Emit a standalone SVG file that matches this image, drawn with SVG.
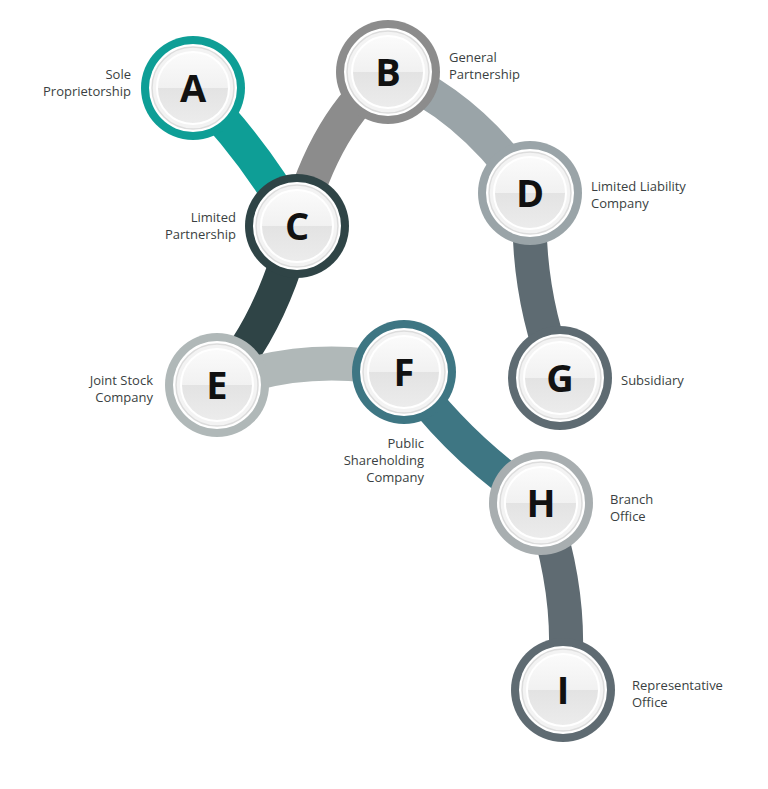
<svg xmlns="http://www.w3.org/2000/svg" width="768" height="789" viewBox="0 0 768 789">
<defs>
<linearGradient id="face" x1="0" y1="0" x2="0" y2="1">
<stop offset="0" stop-color="#fbfbfb"/><stop offset="0.5" stop-color="#f1f1f1"/><stop offset="0.5" stop-color="#e3e3e3"/><stop offset="1" stop-color="#ececec"/>
</linearGradient>
<g id="knob">
<circle r="44" fill="#ffffff"/>
<circle r="41" fill="#f3f3f3" stroke="#dcdcdc" stroke-width="1.5"/>
<circle r="36" fill="url(#face)" stroke="#ffffff" stroke-width="2"/>
</g>
</defs>
<style>
.c{fill:none;stroke-width:34;stroke-linecap:round}
.l{font-family:"Open Sans","Liberation Sans",sans-serif;font-size:13px;fill:#3a3f42}
.r{text-anchor:end}
.t{font-family:"Open Sans","Liberation Sans",sans-serif;font-size:38px;font-weight:700;fill:#111;text-anchor:middle}
</style>
<rect width="768" height="789" fill="#fff"/>
<g id="connectors">
<path class="c" stroke="#0e9e96" d="M193,88 Q255,150 297,226"/>
<path class="c" stroke="#8c8c8c" d="M388,72 Q325,120 297,226"/>
<path class="c" stroke="#9aa4a8" d="M388,72 Q470,105 530,193"/>
<path class="c" stroke="#5e6b72" d="M530,193 Q525,290 560,378"/>
<path class="c" stroke="#2f4446" d="M297,226 Q270,330 217,385"/>
<path class="c" stroke="#b0b8b8" d="M217,385 Q310,350 404,372"/>
<path class="c" stroke="#3e7683" d="M404,372 Q460,450 541,503"/>
<path class="c" stroke="#5f6b72" d="M541,503 Q575,600 563,690"/>
</g>
<g id="A"><circle cx="193" cy="88" r="52" fill="#0e9e96"/><use href="#knob" x="193" y="88"/><text class="t" x="193" y="102">A</text></g>
<g id="B"><circle cx="388" cy="72" r="52" fill="#8c8c8c"/><use href="#knob" x="388" y="72"/><text class="t" x="388" y="86">B</text></g>
<g id="C"><circle cx="297" cy="226" r="52" fill="#2f4446"/><use href="#knob" x="297" y="226"/><text class="t" x="297" y="240">C</text></g>
<g id="D"><circle cx="530" cy="193" r="52" fill="#9aa4a8"/><use href="#knob" x="530" y="193"/><text class="t" x="530" y="207">D</text></g>
<g id="E"><circle cx="217" cy="385" r="52" fill="#b0b8b8"/><use href="#knob" x="217" y="385"/><text class="t" x="217" y="399">E</text></g>
<g id="F"><circle cx="404" cy="372" r="52" fill="#3e7683"/><use href="#knob" x="404" y="372"/><text class="t" x="404" y="386">F</text></g>
<g id="G"><circle cx="560" cy="378" r="52" fill="#5e6b72"/><use href="#knob" x="560" y="378"/><text class="t" x="560" y="392">G</text></g>
<g id="H"><circle cx="541" cy="503" r="52" fill="#a8aeb0"/><use href="#knob" x="541" y="503"/><text class="t" x="541" y="517">H</text></g>
<g id="I"><circle cx="563" cy="690" r="52" fill="#5f6b72"/><use href="#knob" x="563" y="690"/><text class="t" x="563" y="704">I</text></g>
<g id="labels">
<text class="l r" x="131" y="79">Sole</text><text class="l r" x="131" y="96">Proprietorship</text>
<text class="l" x="449" y="62">General</text><text class="l" x="449" y="79">Partnership</text>
<text class="l r" x="236" y="222">Limited</text><text class="l r" x="236" y="239">Partnership</text>
<text class="l" x="591" y="191">Limited Liability</text><text class="l" x="591" y="208">Company</text>
<text class="l r" x="153" y="385">Joint Stock</text><text class="l r" x="153" y="402">Company</text>
<text class="l" x="621" y="385">Subsidiary</text>
<text class="l r" x="424" y="448">Public</text><text class="l r" x="424" y="465">Shareholding</text><text class="l r" x="424" y="482">Company</text>
<text class="l" x="610" y="504">Branch</text><text class="l" x="610" y="521">Office</text>
<text class="l" x="632" y="690">Representative</text><text class="l" x="632" y="707">Office</text>
</g>
</svg>
